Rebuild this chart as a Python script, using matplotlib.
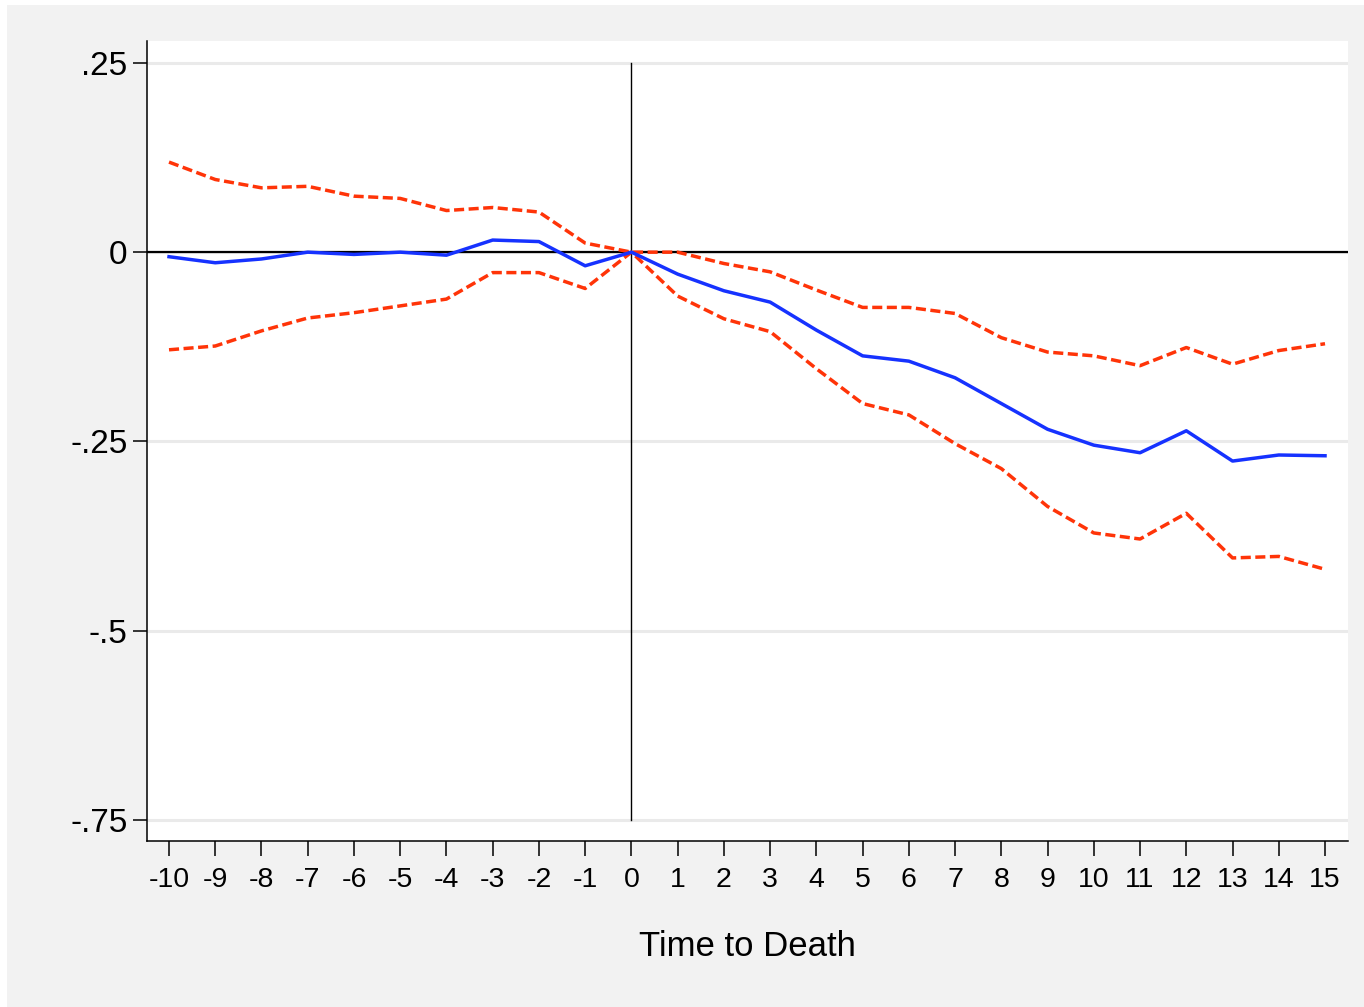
"""Event-study plot: coefficient by time to death with 95% CI bounds (dashed)."""

import matplotlib

matplotlib.use("Agg")
import matplotlib.pyplot as plt
from matplotlib.patches import Rectangle

plt.rcParams["font.family"] = ["Liberation Sans", "DejaVu Sans"]

# event time
time_to_death = list(range(-10, 16))

# point estimates
coef = [
    -0.006, -0.014, -0.009, 0.000, -0.003, 0.000, -0.004, 0.016, 0.014, -0.018, 0.000,
    -0.029, -0.051, -0.066, -0.103, -0.137, -0.144, -0.166, -0.200, -0.234, -0.255,
    -0.265, -0.236, -0.276, -0.268, -0.269,
]

# upper / lower confidence bounds
ci_upper = [
    0.119, 0.096, 0.085, 0.087, 0.074, 0.071, 0.055, 0.059, 0.053, 0.012, 0.000,
    0.000, -0.015, -0.026, -0.050, -0.073, -0.073, -0.081, -0.113, -0.132, -0.137,
    -0.150, -0.126, -0.148, -0.130, -0.121,
]
ci_lower = [
    -0.129, -0.124, -0.104, -0.087, -0.080, -0.071, -0.062, -0.027, -0.027, -0.048, 0.000,
    -0.058, -0.088, -0.105, -0.154, -0.200, -0.215, -0.253, -0.286, -0.336, -0.371,
    -0.379, -0.345, -0.404, -0.402, -0.419,
]

y_ticks = [0.25, 0.0, -0.25, -0.5, -0.75]
y_ticklabels = [".25", "0", "-.25", "-.5", "-.75"]

W, H = 1364, 1007
fig = plt.figure(figsize=(W / 100, H / 100), dpi=100, facecolor="white")
fig.patches.append(
    Rectangle((7 / W, 0), 1 - 7 / W, 1 - 5 / H, transform=fig.transFigure,
              facecolor="#f2f2f2", edgecolor="none", zorder=-5)
)

ax = fig.add_axes([147 / W, (H - 841) / H, (1348 - 147) / W, (841 - 41) / H])
ax.set_facecolor("white")

for yt in y_ticks:
    ax.axhline(yt, color="#eaeaea", linewidth=2.2, zorder=1)

ax.axhline(0, color="black", linewidth=1.6, zorder=2)
ax.plot([0, 0], [0.25, -0.75], color="black", linewidth=1.0, zorder=2)

dash = (0, (2.9, 1.3))
ax.plot(time_to_death, ci_upper, color="#ff3408", linewidth=2.5,
        linestyle=dash, dash_capstyle="butt", zorder=3)
ax.plot(time_to_death, ci_lower, color="#ff3408", linewidth=2.5,
        linestyle=dash, dash_capstyle="butt", zorder=3)
ax.plot(time_to_death, coef, color="#1632ff", linewidth=2.5, zorder=4)

ax.set_xlim(-10.476, 15.497)
ax.set_ylim(-0.778, 0.279)

ax.set_xticks(time_to_death)
ax.set_xticklabels([str(t) for t in time_to_death], fontsize=20.5)
ax.set_yticks(y_ticks)
ax.set_yticklabels(y_ticklabels, fontsize=24)

ax.tick_params(axis="x", length=11, width=1.1, pad=8, direction="out")
ax.tick_params(axis="y", length=10, width=1.1, pad=4, direction="out")

for side in ("top", "right"):
    ax.spines[side].set_visible(False)
for side in ("left", "bottom"):
    ax.spines[side].set_linewidth(1.1)

ax.set_xlabel("Time to Death", fontsize=25, labelpad=26)

fig.savefig("out.png", dpi=100, facecolor=fig.get_facecolor())
plt.close(fig)
